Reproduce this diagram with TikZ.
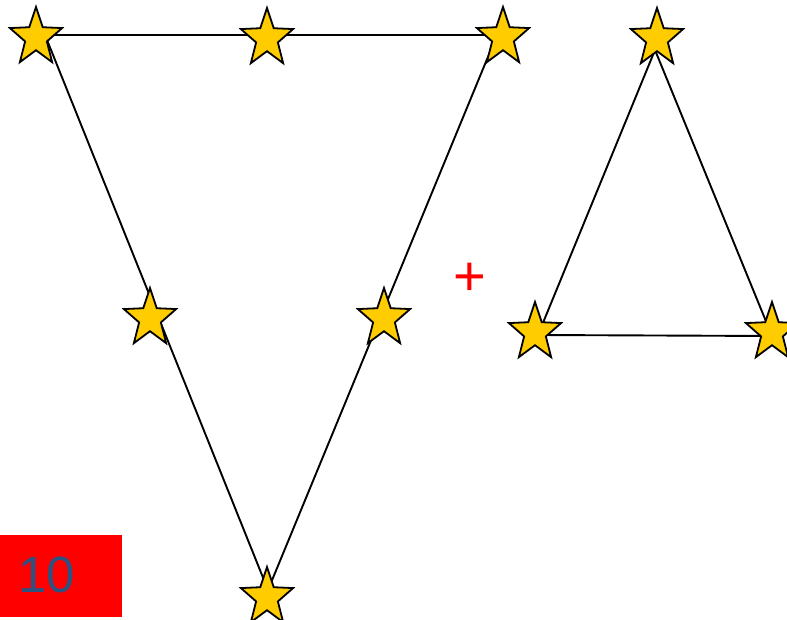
\documentclass[tikz,border=0pt]{standalone}
\usepackage{fontspec}
\setmainfont{Liberation Sans}
\usetikzlibrary{shapes.geometric}
\definecolor{stargold}{RGB}{255,204,0}
\definecolor{numblue}{RGB}{44,82,130}
\begin{document}
\begin{tikzpicture}[x=1pt,y=-1pt]
    \tikzset{s/.style={star, star points=5, star point ratio=2.4, draw, line width=1.8pt, fill=stargold,
                       minimum size=61pt, inner sep=0pt, xscale=0.9, transform shape},
             edge/.style={line width=1.9pt}}
    \useasboundingbox (0,0) rectangle (787,620);

    % ---- corners of the big triangle ----
    \coordinate (A) at (45,35);
    \coordinate (B) at (497,35);
    \coordinate (C) at (268,590);
    \draw[edge] (A)--(B)--(C)--cycle;

    % ---- corners of the small triangle ----
    \coordinate (D) at (655,50);
    \coordinate (E) at (538,335);
    \coordinate (F) at (772,336);
    \draw[edge] (D)--(E)--(F)--cycle;

    % ---- stars on the big triangle ----
    \node[s] (b1) at (36,37.5) {};
    \node[s] (b2) at (267,38.5) {};
    \node[s] (b3) at (503,37.5) {};
    \node[s] (b4) at (150,318.5) {};
    \node[s] (b5) at (384,318.5) {};
    \node[s] (b6) at (267,597.5) {};

    % ---- stars on the small triangle ----
    \node[s] (c1) at (657,38.5) {};
    \node[s] (c2) at (535,332.5) {};
    \node[s] (c3) at (772,332.5) {};

    % ---- plus sign and number box ----
    \node[text=red, font=\fontsize{56}{56}\selectfont, inner sep=0pt] (plus) at (470,279) {+};
    \fill[red] (0,535) rectangle (122,617);
    \node[text=numblue, font=\fontsize{51}{51}\selectfont, inner sep=0pt] (num) at (47,575) {10};
\end{tikzpicture}
\end{document}
